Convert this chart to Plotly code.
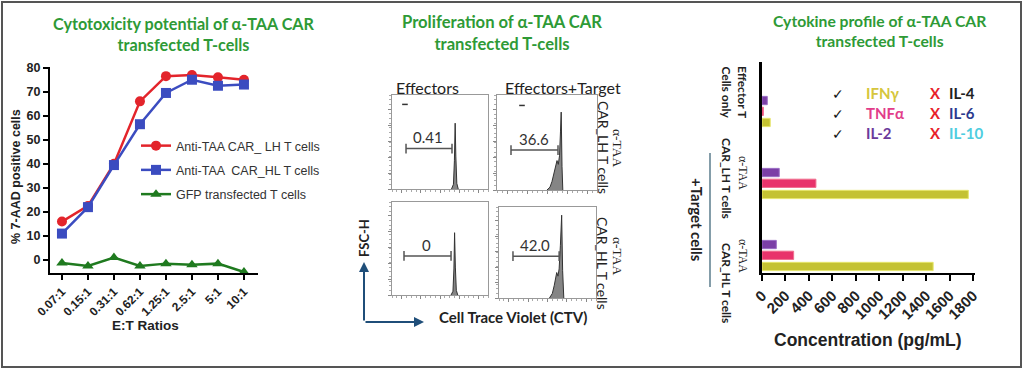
import plotly.graph_objects as go

W, H = 1024, 370
def px(x): return x / W
def py(y): return 1 - y / H

# ---------------- Panel 1: cytotoxicity ----------------
ratios = ["0.07:1", "0.15:1", "0.31:1", "0.62:1", "1.25:1", "2.5:1", "5:1", "10:1"]
car_lh = [16, 22.5, 40, 66, 76.5, 77, 76, 75]
car_hl = [11, 22, 39.5, 56.5, 69.5, 75, 72.5, 73]
gfp = [-1.2, -2.5, 1, -2.5, -1.5, -2, -1.5, -5]
series_names = ["Anti-TAA CAR_ LH T cells", "Anti-TAA  CAR_HL T cells", "GFP transfected T cells"]
y1_ticks = [0, 10, 20, 30, 40, 50, 60, 70, 80]

# ---------------- Panel 2: proliferation histograms (CTV) ----------------
hist_eff_lh_x = [62, 64, 65, 65.8, 66.5, 67.5, 69]
hist_eff_lh_y = [0, 5, 30, 70, 35, 6, 0]
hist_tgt_lh_x = [50, 53, 55, 57, 58.5, 60, 61.3, 62.5, 63.5, 64.2, 65, 65.8]
hist_tgt_lh_y = [0, 3, 9, 18, 25, 31, 27, 36, 62, 82, 25, 0]
hist_eff_hl_x = [61.5, 63.5, 64.5, 65.2, 66, 67, 68.5]
hist_eff_hl_y = [0, 4, 28, 67, 30, 5, 0]
hist_tgt_hl_x = [52, 55, 57, 58.5, 59.5, 60.8, 62, 63.3, 64.6, 65.6, 66.8]
hist_tgt_hl_y = [0, 5, 14, 24, 28, 24, 32, 58, 91, 30, 0]
stray_event_x = [13.5, 25, None, None]
stray_event_y = [90, 89, None, None]
gate_values = ["0.41", "36.6", "0", "42.0"]
gate_start = [14.6, 14, 12.5, 14.4]
gate_end = [62.5, 61, 61.5, 62]
gate_level = [43, 42, 42, 46]

# ---------------- Panel 3: cytokines ----------------
groups = ["Effector T cells only", "α-TAA CAR_LH T cells", "α-TAA CAR_HL T cells"]
ifng = [70, 1760, 1460]
tnfa = [12, 460, 270]
il2 = [45, 147, 122]
x3_ticks = [0, 200, 400, 600, 800, 1000, 1200, 1400, 1600, 1800]

fig = go.Figure()

# Panel 1 traces
colors1 = ["#e3242b", "#3b4cc0", "#1f7a1f"]
symbols1 = ["circle", "square", "triangle-up"]
for name, vals, c, s in zip(series_names, [car_lh, car_hl, gfp], colors1, symbols1):
    fig.add_trace(go.Scatter(
        x=ratios, y=vals, name=name, mode="lines+markers",
        line=dict(color=c, width=2.5), marker=dict(symbol=s, size=10, color=c),
        xaxis="x", yaxis="y", legendgroup=name, showlegend=True))

# Panel 2 traces
hists = [(hist_eff_lh_x, hist_eff_lh_y), (hist_tgt_lh_x, hist_tgt_lh_y),
         (hist_eff_hl_x, hist_eff_hl_y), (hist_tgt_hl_x, hist_tgt_hl_y)]
for i, (hx, hy) in enumerate(hists):
    ax = str(i + 2)
    fig.add_trace(go.Scatter(
        x=hx, y=hy, mode="lines", fill="tozeroy", fillcolor="#858585",
        line=dict(color="#333333", width=1), xaxis="x" + ax, yaxis="y" + ax,
        showlegend=False, hoverinfo="skip"))
    fig.add_trace(go.Scatter(
        x=[gate_start[i], gate_end[i]], y=[gate_level[i], gate_level[i]],
        mode="lines+markers", line=dict(color="#555555", width=1.5),
        marker=dict(symbol="line-ns", size=7, line=dict(color="#555555", width=1.5)),
        xaxis="x" + ax, yaxis="y" + ax, showlegend=False, hoverinfo="skip"))
    if stray_event_x[i] is not None:
        fig.add_trace(go.Scatter(
            x=[stray_event_x[i]], y=[stray_event_y[i]], mode="markers",
            marker=dict(symbol="line-ew", size=4, line=dict(color="#333", width=1.5)),
            xaxis="x" + ax, yaxis="y" + ax, showlegend=False, hoverinfo="skip"))

# Panel 3 traces
bar_specs = [("IFNγ", ifng, "#c4c232", "#e6e66a", -0.21),
             ("TNFα", tnfa, "#e8336b", "#f0708f", -0.055),
             ("IL-2", il2, "#7b3fa6", "#9a6cc4", 0.095)]
for name, vals, c, lc, off in bar_specs:
    fig.add_trace(go.Bar(
        y=groups, x=vals, orientation="h", name=name, width=0.115, offset=off,
        marker=dict(color=c, line=dict(color=lc, width=1)),
        xaxis="x6", yaxis="y6", showlegend=False))

axis_black = dict(showgrid=False, zeroline=False, showline=True, linecolor="black",
                  linewidth=2, ticks="outside", tickcolor="black", tickwidth=2, ticklen=5,
                  automargin=False)

hist_axis = dict(showgrid=False, zeroline=False, showline=True, linecolor="#999999",
                 linewidth=1, mirror=True, ticks="outside", tickcolor="#888888",
                 ticklen=3, tickwidth=1, showticklabels=False, range=[0, 100],
                 automargin=False,
                 minor=dict(ticks="outside", ticklen=2, tickcolor="#aaaaaa"))

layout = dict(
    width=W, height=H, margin=dict(l=0, r=0, t=0, b=0, pad=0, autoexpand=False),
    paper_bgcolor="white", plot_bgcolor="white", barmode="overlay",
    xaxis=dict(axis_black, domain=[px(50), px(258)], anchor="y", type="category",
               range=[-0.46, 7.54], tickangle=-45,
               tickfont=dict(family="Liberation Sans", size=12, weight="bold", color="#222")),
    yaxis=dict(axis_black, domain=[py(273), py(67)], anchor="x", range=[-5.4, 80.3],
               tickvals=y1_ticks,
               tickfont=dict(family="Liberation Sans", size=12.5, weight="bold", color="#222")),
    legend=dict(x=px(136), y=py(131), xanchor="left", yanchor="top", bgcolor="rgba(0,0,0,0)",
                font=dict(family="Liberation Sans", size=12.5, color="#333"),
                itemwidth=30, tracegroupgap=5),
)
hist_domains = [((392, 488), (189, 95)), ((497, 597), (190, 95)),
                ((392, 488), (295, 202)), ((499, 596), (298, 207))]
for i, ((xa, xb), (yb, yt)) in enumerate(hist_domains):
    k = str(i + 2)
    layout["xaxis" + k] = dict(hist_axis, domain=[px(xa), px(xb)], anchor="y" + k,
                               tickvals=[10, 30, 50, 70, 90])
    layout["yaxis" + k] = dict(hist_axis, domain=[py(yb), py(yt)], anchor="x" + k,
                               tickvals=[0, 17, 34, 51, 68, 85])

layout["xaxis6"] = dict(axis_black, domain=[px(762), px(975)], anchor="y6",
                        range=[0, 1817], tickvals=x3_ticks, tickangle=-45, ticklen=6,
                        tickfont=dict(family="Liberation Sans", size=15, weight="bold", color="#222"))
layout["yaxis6"] = dict(showgrid=False, zeroline=False, showline=True, linecolor="black",
                        linewidth=2.5, ticks="", showticklabels=False, domain=[py(273), py(62)],
                        anchor="x6", type="category", categoryorder="array", automargin=False,
                        categoryarray=groups[::-1], range=[-0.243, 2.6875])
layout["yaxis7"] = dict(showgrid=False, zeroline=False, showline=False, overlaying="y6",
                        anchor="x6", range=[-0.243, 2.6875], tickvals=[0.23, 1.23, 2.23],
                        ticks="outside", ticklen=6, tickwidth=2, tickcolor="black",
                        showticklabels=False, domain=[py(273), py(62)], automargin=False)
fig.update_layout(**layout)

def txt(x, y, text, size, color="#000", family="Lato", bold=False, angle=0, xanchor="center"):
    return dict(x=px(x), y=py(y), xref="paper", yref="paper", text=text, showarrow=False,
                font=dict(size=size, color=color, family=family,
                          weight="bold" if bold else "normal"),
                textangle=angle, xanchor=xanchor, yanchor="middle")

green = "#2e9a36"
ann = [
    txt(184, 34, "Cytotoxicity potential of α-TAA CAR<br>transfected T-cells", 16.2, green, bold=True),
    txt(502, 33, "Proliferation of α-TAA CAR<br>transfected T-cells", 16.6, green, bold=True),
    txt(880, 31, "Cytokine profile of α-TAA CAR<br>transfected T-cells", 15.7, green, bold=True),
    # Panel 1 axis titles
    txt(16, 177, "% 7-AAD positive cells", 12.5, "#222", "Liberation Sans", True, -90),
    txt(145, 325, "E:T Ratios", 13.5, "#222", "Liberation Sans", True),
    # Panel 2 labels
    txt(427, 87, "Effectors", 16, "#222"),
    txt(563, 87, "Effectors+Target", 16, "#222"),
    txt(603, 147, "CAR_LH T cells", 14, "#222", angle=90),
    txt(618, 148, "α-TAA", 13.5, "#222", "Liberation Serif", angle=90),
    txt(603, 263, "CAR_HL T cells", 14, "#222", angle=90),
    txt(618, 256, "α-TAA", 13.5, "#222", "Liberation Serif", angle=90),
    txt(364, 238, "FSC-H", 13, "#222", bold=True, angle=-90),
    txt(513, 317, "Cell Trace Violet (CTV)", 15, "#222", bold=True),
    # Panel 3 labels
    txt(735, 92, "Effector T<br>Cells only", 12, "#222", bold=True, angle=90),
    txt(743, 173, "α-TAA", 12, "#222", "Liberation Serif", angle=90),
    txt(727, 178, "CAR_LH T cells", 12, "#222", bold=True, angle=90),
    txt(743, 256, "α-TAA", 12, "#222", "Liberation Serif", angle=90),
    txt(727, 283, "CAR_HL T cells", 12, "#222", bold=True, angle=90),
    txt(697, 220, "+Target cells", 15, "#222", bold=True, angle=90),
    txt(868, 340, "Concentration (pg/mL)", 17.5, "#222", "Liberation Sans", True),
]
# cytokine legend
for yy, name, col, neg, ncol in [(93, "IFNγ", "#d6c63c", "IL-4", "#222222"),
                                  (113, "TNFα", "#e23c8a", "IL-6", "#2b3a8f"),
                                  (133, "IL-2", "#6b3a9b", "IL-10", "#4ecde0")]:
    ann.append(txt(838, yy, "✓", 14, "#111"))
    ann.append(txt(864, yy, name, 15, col, bold=True, xanchor="left"))
    ann.append(txt(935, yy, "X", 15, "#e8202a", bold=True))
    ann.append(txt(947, yy, neg, 15, ncol, bold=True, xanchor="left"))

# gate labels
for i in range(4):
    k = str(i + 2)
    ann.append(dict(x=(gate_start[i] + gate_end[i]) / 2 - 1, y=gate_level[i] + 12,
                    xref="x" + k, yref="y" + k, text=gate_values[i], showarrow=False,
                    font=dict(family="Lato", size=15, color="#333")))

# FSC / CTV axis arrows
ann.append(dict(x=px(364), y=py(262), xref="paper", yref="paper", ax=0, ay=60, text="",
                showarrow=True, arrowhead=2, arrowsize=1, arrowwidth=2, arrowcolor="#1f4e79"))
ann.append(dict(x=px(424), y=py(322), xref="paper", yref="paper", ax=-60, ay=0, text="",
                showarrow=True, arrowhead=2, arrowsize=1, arrowwidth=2, arrowcolor="#1f4e79"))

shapes = [
    dict(type="rect", xref="paper", yref="paper", x0=px(2), y0=py(367), x1=px(1021), y1=py(2),
         line=dict(color="#555555", width=2)),
    dict(type="line", xref="paper", yref="paper", x0=px(710), x1=px(710), y0=py(153), y1=py(287),
         line=dict(color="#5b7c8c", width=1.5)),
]
fig.update_layout(annotations=ann, shapes=shapes)

fig.write_html("out.html", config={"displayModeBar": False},
               post_script="document.body.style.margin='0px';document.body.style.overflow='hidden';")
